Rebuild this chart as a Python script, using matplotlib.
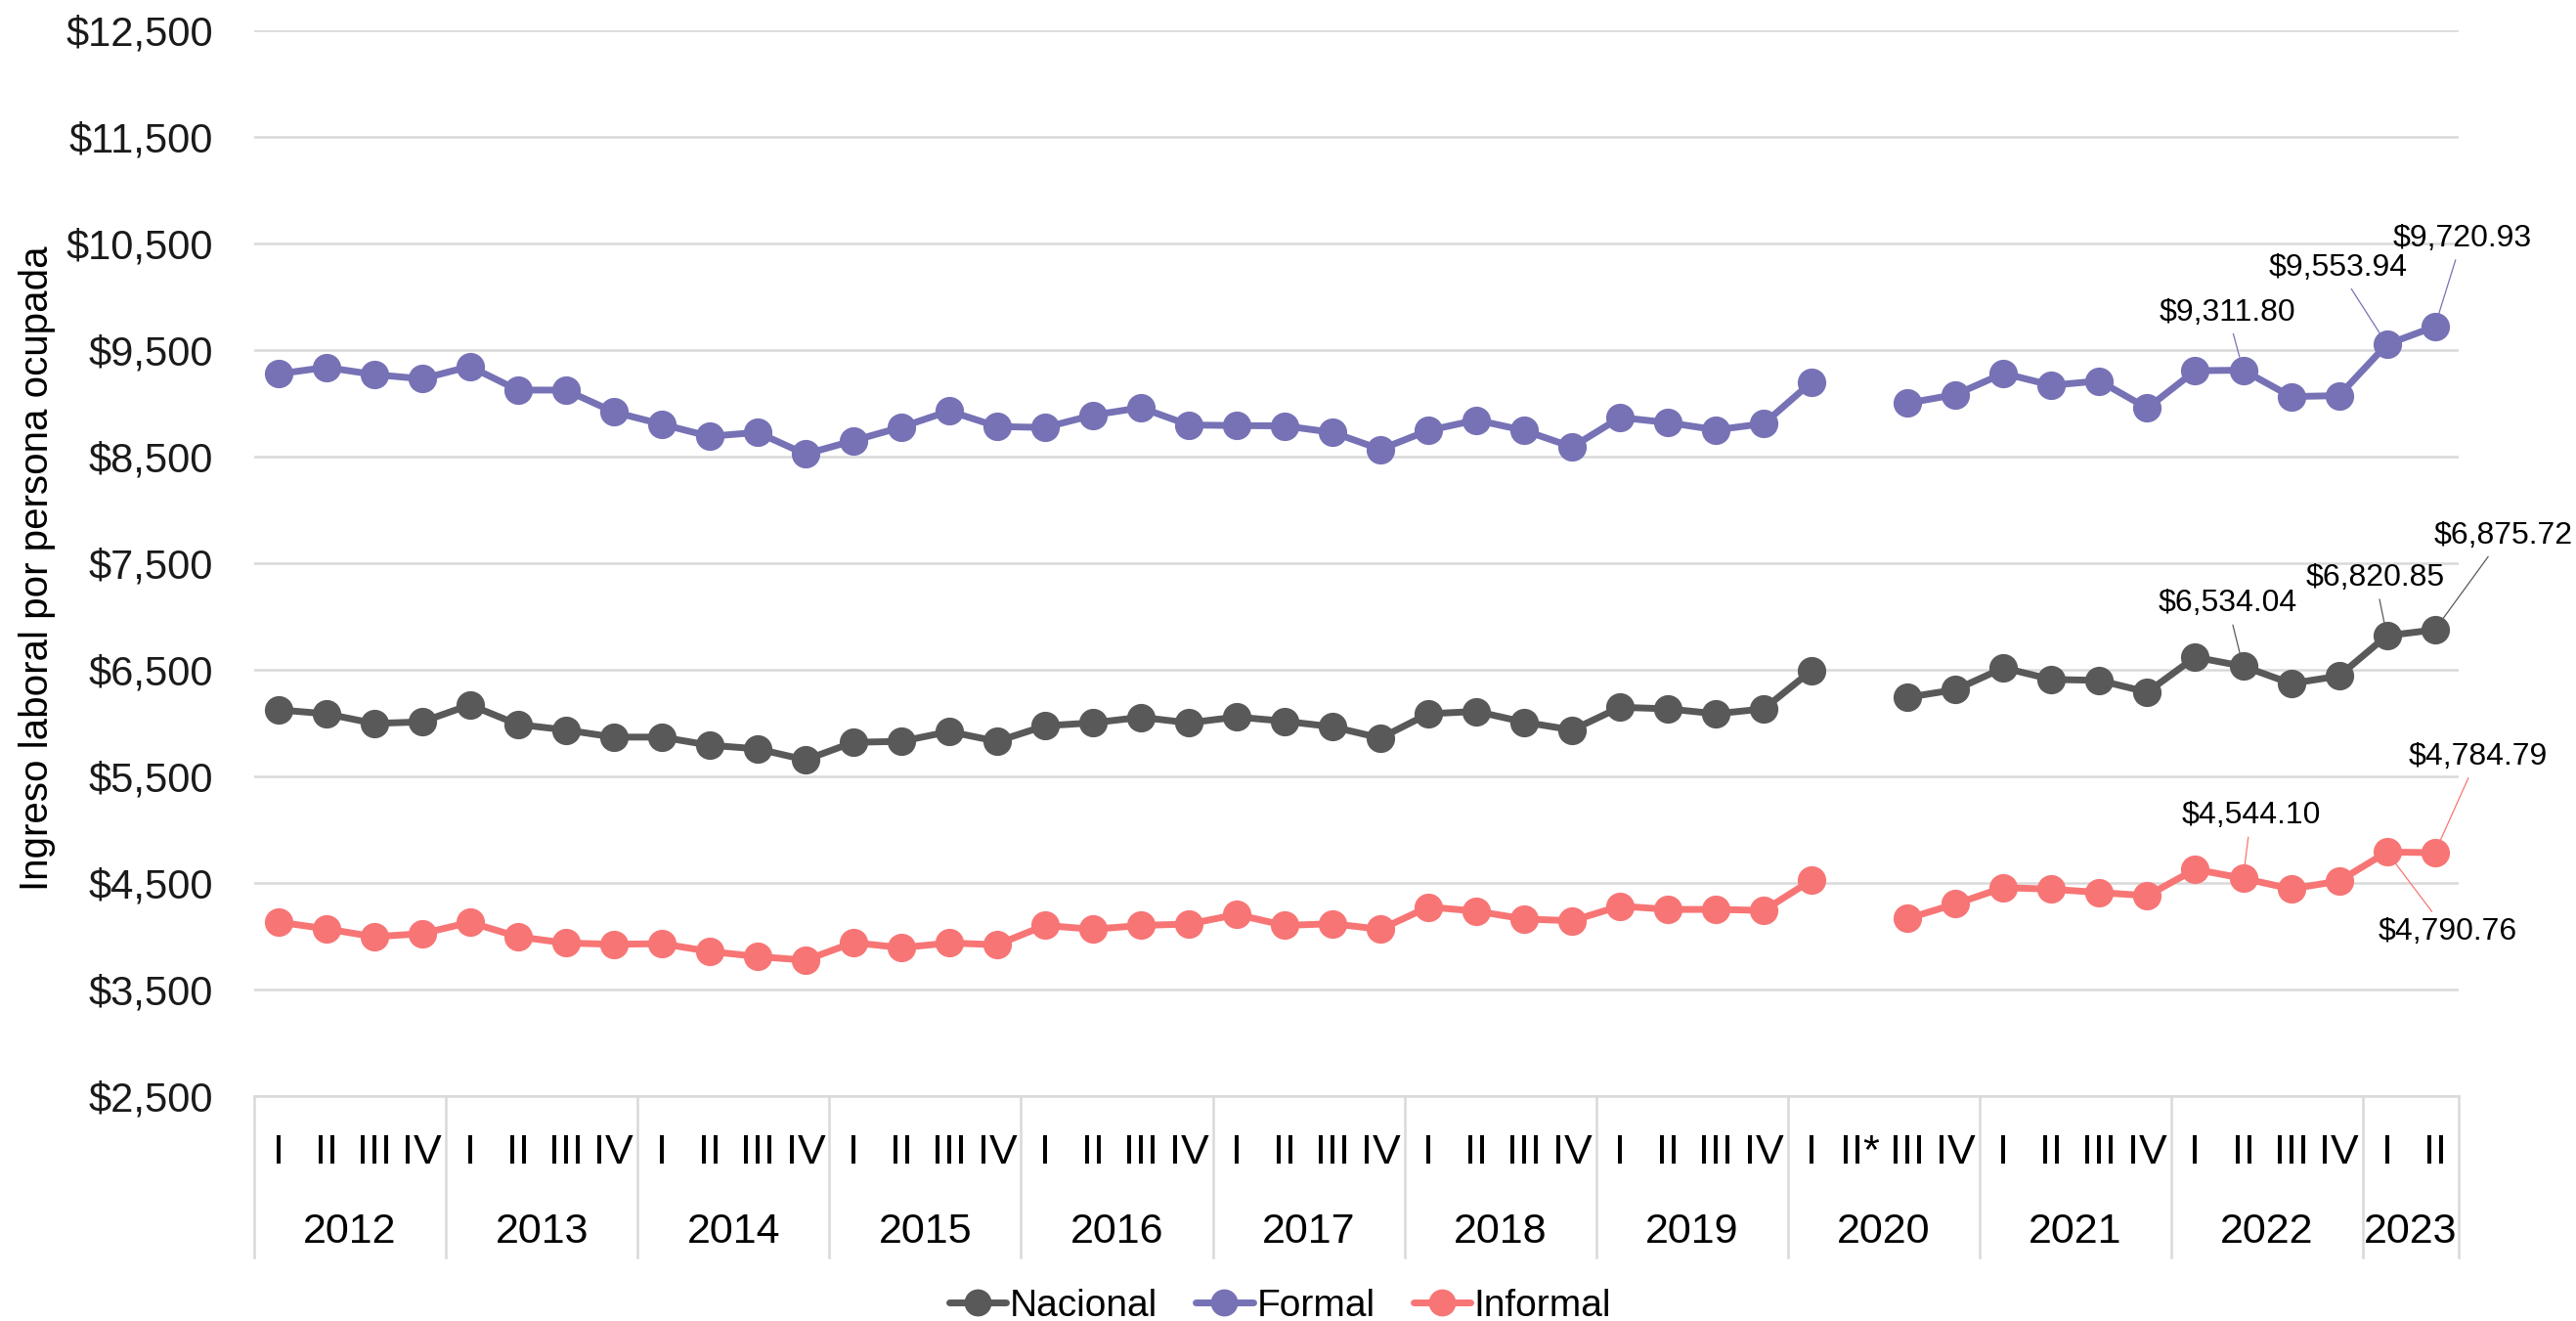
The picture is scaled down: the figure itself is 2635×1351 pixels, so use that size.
import numpy as np
import matplotlib
matplotlib.use("Agg")
import matplotlib.pyplot as plt
from matplotlib.transforms import blended_transform_factory

plt.rcParams['font.family'] = ['Liberation Sans', 'DejaVu Sans']

NACIONAL_C = "#595959"
FORMAL_C = "#7672B5"
INFORMAL_C = "#F87575"
GRID_C = "#D9D9D9"

years = ["2012", "2013", "2014", "2015", "2016", "2017", "2018", "2019",
         "2020", "2021", "2022", "2023"]
quarters_per_year = [4, 4, 4, 4, 4, 4, 4, 4, 4, 4, 4, 2]
quarter_labels = (["I", "II", "III", "IV"] * 8 + ["I", "II*", "III", "IV"]
                  + ["I", "II", "III", "IV"] * 2 + ["I", "II"])

nan = np.nan
nacional = [6125, 6088, 5997, 6012, 6171, 5988, 5936, 5869,
            5869, 5793, 5759, 5655, 5820, 5829, 5921, 5829,
            5975, 6003, 6055, 6003, 6058, 6018, 5966, 5860,
            6088, 6110, 6009, 5936, 6149, 6134, 6088, 6134,
            6496, nan, 6243, 6314, 6519, 6410, 6401, 6291,
            6619, 6534.04, 6372, 6442, 6820.85, 6875.72]
formal = [9277, 9338, 9271, 9231, 9347, 9125, 9125, 8920,
          8805, 8691, 8728, 8524, 8650, 8777, 8929, 8783,
          8774, 8890, 8960, 8798, 8792, 8789, 8728, 8569,
          8746, 8844, 8746, 8591, 8868, 8820, 8752, 8810,
          9202, nan, 9003, 9083, 9282, 9170, 9211, 8955,
          9307, 9311.80, 9064, 9073, 9553.94, 9720.93]
informal = [4134, 4070, 3996, 4025, 4131, 3996, 3937, 3925,
            3931, 3858, 3810, 3776, 3941, 3893, 3937, 3921,
            4102, 4066, 4102, 4115, 4205, 4102, 4118, 4066,
            4275, 4236, 4162, 4146, 4284, 4252, 4252, 4243,
            4528, nan, 4167, 4304, 4457, 4442, 4411, 4381,
            4628, 4544.10, 4445, 4518, 4790.76, 4784.79]

# labelled points: (series, index, offset in pixels)
labelled = [
    ("formal", 41, (-16, 59)), ("formal", 44, (-50, 78)), ("formal", 45, (28, 90)),
    ("nacional", 41, (-16, 64)), ("nacional", 44, (-12, 59)), ("nacional", 45, (70, 96)),
    ("informal", 41, (8, 64)), ("informal", 44, (62, -82)), ("informal", 45, (44, 98)),
]

fig = plt.figure(figsize=(26.35, 13.51), dpi=100)
ax = fig.add_axes([0.0987, 0.1702, 0.8558, 0.8068])

n = len(quarter_labels)
x = np.arange(n) + 0.5
series = {
    "nacional": (nacional, NACIONAL_C, "Nacional"),
    "formal": (formal, FORMAL_C, "Formal"),
    "informal": (informal, INFORMAL_C, "Informal"),
}
for key in ["nacional", "formal", "informal"]:
    vals, col, name = series[key]
    ax.plot(x, vals, color=col, lw=5, marker="o", markersize=20, label=name,
            solid_capstyle="round")

for key, i, off in labelled:
    vals, col, _ = series[key]
    ax.annotate(f"${vals[i]:,.2f}", xy=(x[i], vals[i]), xytext=off,
                textcoords="offset pixels", ha="center", va="center", fontsize=23,
                arrowprops=dict(arrowstyle="-", color=col, lw=0.9, shrinkA=3, shrinkB=10))

ax.set_xlim(0, n)
ax.set_ylim(2500, 12500)
ax.set_yticks(np.arange(2500, 12501, 1000))
ax.yaxis.set_major_formatter(lambda v, p: f"${v:,.0f}")
ax.tick_params(axis="y", length=0, pad=30, labelsize=30, labelcolor="#1a1a1a")
ax.set_xticks([])
ax.grid(axis="y", color=GRID_C, lw=1.8)
ax.set_axisbelow(True)
for s in ["top", "right", "left"]:
    ax.spines[s].set_visible(False)
ax.spines["bottom"].set_color(GRID_C)
ax.spines["bottom"].set_linewidth(1.8)

ax.set_ylabel("Ingreso laboral por persona ocupada", fontsize=29)
ax.yaxis.set_label_coords(-0.09, 0.495)

# category axis: quarters and year groups
trans = blended_transform_factory(ax.transData, ax.transAxes)
for xi, q in zip(x, quarter_labels):
    ax.text(xi, -0.053, q, transform=trans, ha="center", va="center", fontsize=31)
start = 0
bounds = [0]
for yr, nq in zip(years, quarters_per_year):
    ax.text(start + nq / 2, -0.1275, yr, transform=trans, ha="center", va="center", fontsize=31)
    start += nq
    bounds.append(start)
for b in bounds:
    ax.plot([b, b], [0, -0.151], transform=trans, color=GRID_C, lw=1.8, clip_on=False)

fig.legend(loc="lower center", bbox_to_anchor=(0.497, -0.028), ncol=3, frameon=False,
           fontsize=28, handlelength=1.5, handletextpad=0.1, columnspacing=1.0,
           markerscale=0.95)

fig.savefig("out.png", dpi=100)
